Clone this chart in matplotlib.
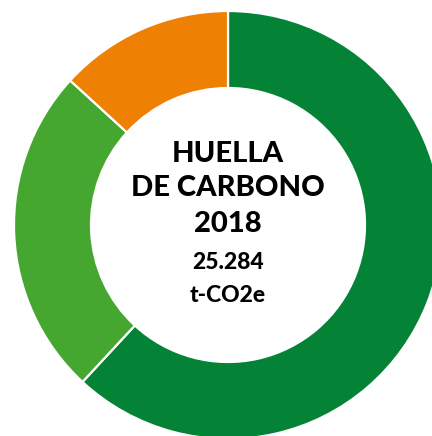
import matplotlib
matplotlib.use("Agg")
import matplotlib.pyplot as plt

labels = ["Segmento 1", "Segmento 2", "Segmento 3"]
values = [61.9, 24.9, 13.2]
colors = ["#048235", "#45A72F", "#EE8003"]
title_lines = ["HUELLA", "DE CARBONO", "2018"]
total_lines = ["25.284", "t-CO2e"]

W, H = 432, 436
fig = plt.figure(figsize=(W / 100, H / 100), dpi=100)
ax = fig.add_axes([0, 0, 1, 1])
ax.set_xlim(0, W)
ax.set_ylim(0, H)
ax.set_aspect("equal")
ax.axis("off")

cx, cy = 228, H - 225
R, r = 214, 137
ax.pie(values, colors=colors, startangle=90, counterclock=False,
       center=(cx, cy), radius=R,
       wedgeprops=dict(width=R - r, edgecolor="white", linewidth=1.6))
ax.set_xlim(0, W)
ax.set_ylim(0, H)

font = ["Lato", "DejaVu Sans"]
for line, base in zip(title_lines, [162, 196, 232]):
    ax.text(cx, H - base, line, ha="center", va="baseline", fontsize=21,
            fontweight="black", family=font, color="black")
for line, base in zip(total_lines, [269, 302]):
    ax.text(cx, H - base, line, ha="center", va="baseline", fontsize=16.5,
            fontweight="black", family=font, color="black")

fig.savefig("out.png", dpi=100)
